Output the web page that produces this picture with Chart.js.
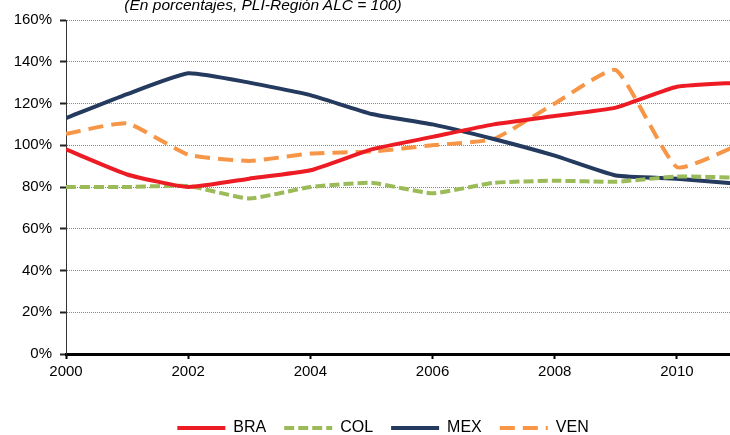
<!DOCTYPE html>
<html>
<head>
<meta charset="utf-8">
<script src="https://cdn.jsdelivr.net/npm/chart.js@4/dist/chart.umd.min.js"></script>
<style>
  html, body { margin: 0; padding: 0; background: #fff; overflow: hidden; }
  #wrap { position: relative; width: 730px; height: 435px; overflow: hidden; }
  #box { position: absolute; left: 0; top: 0; width: 738px; height: 450px; }
  #subtitle {
    position: absolute; left: 0; top: -4px; width: 526px; text-align: center;
    font: italic 15.5px "Liberation Sans", Arial, sans-serif; line-height: 17px; color: #000;
  }
</style>
</head>
<body>
<div id="wrap">
  <div id="box"><canvas id="chart" width="738" height="450"></canvas></div>
  <div id="subtitle">(En porcentajes, PLI-Región ALC = 100)</div>
</div>
<script>
const years = [2000, 2001, 2002, 2003, 2004, 2005, 2006, 2007, 2008, 2009, 2010, 2011];
const bra = [98, 86, 80, 84, 88, 98, 104, 110, 114, 118, 128, 130];
const col = [80, 80, 80.5, 74.5, 80, 82, 77, 82, 83, 82.5, 85, 84.5];
const mex = [113, 124.5, 134.5, 130, 124, 115, 110, 103, 95, 85.5, 84, 81.5];
const ven = [105.5, 110.5, 95.5, 92.5, 96, 97, 100, 103, 120, 136, 89.5, 100];
const yTicks = [0, 20, 40, 60, 80, 100, 120, 140, 160];

function pts(vals) {
    return years.map((yr, i) => ({ x: yr, y: vals[i] }));
}

// nudge the legend a bit to the right, like the original
const shiftLegend = {
    id: "shiftLegend",
    afterLayout(chart) {
        chart.legend.left += 14;
        chart.legend.right += 14;
    }
};

const ctx = document.getElementById("chart").getContext("2d");

new Chart(ctx, {
    type: "line",
    data: {
        datasets: [
            { label: "BRA", data: pts(bra), borderColor: "#ED1C24", backgroundColor: "#ED1C24", borderWidth: 4, borderDash: [] },
            { label: "COL", data: pts(col), borderColor: "#9BBB59", backgroundColor: "#9BBB59", borderWidth: 4, borderDash: [10, 4] },
            { label: "MEX", data: pts(mex), borderColor: "#243A5E", backgroundColor: "#243A5E", borderWidth: 4, borderDash: [] },
            { label: "VEN", data: pts(ven), borderColor: "#F79646", backgroundColor: "#F79646", borderWidth: 4, borderDash: [15, 8] }
        ]
    },
    plugins: [shiftLegend],
    options: {
        responsive: false,
        animation: false,
        devicePixelRatio: 1,
        layout: { padding: { top: 20, right: 0, left: 0, bottom: 4 } },
        elements: {
            point: { radius: 0 },
            line: { tension: 0.15, borderCapStyle: "butt" }
        },
        scales: {
            x: {
                type: "linear",
                min: 2000,
                max: 2011,
                afterFit: s => { s.height += 17; },
                ticks: {
                    stepSize: 2,
                    includeBounds: false,
                    color: "#000",
                    padding: 4,
                    maxRotation: 0,
                    font: { family: "'Liberation Sans', Arial", size: 15 },
                    callback: v => String(v)
                },
                grid: { drawOnChartArea: false, tickLength: 5, tickColor: "#000", tickWidth: 2 },
                border: { color: "#000", width: 3 }
            },
            y: {
                min: 0,
                max: 160,
                afterFit: s => { s.width = 66; },
                afterBuildTicks: s => { s.ticks = yTicks.map(v => ({ value: v })); },
                ticks: {
                    color: "#000",
                    padding: 8,
                    font: { family: "'Liberation Sans', Arial", size: 15 },
                    callback: v => v + "%"
                },
                grid: { color: "#888", lineWidth: 1, tickLength: 6, tickColor: "#222", tickWidth: 2, tickBorderDash: [] },
                border: { color: "#333", width: 1, dash: [1, 1] }
            }
        },
        plugins: {
            legend: {
                position: "bottom",
                labels: {
                    usePointStyle: true,
                    pointStyle: "line",
                    pointStyleWidth: 48,
                    padding: 18,
                    color: "#000",
                    font: { family: "'Liberation Sans', Arial", size: 16 },
                    generateLabels: chart => {
                        const items = Chart.defaults.plugins.legend.labels.generateLabels(chart);
                        items.forEach(it => {
                            const ds = chart.data.datasets[it.datasetIndex];
                            it.lineDash = ds.borderDash;
                            it.lineWidth = 4;
                            it.strokeStyle = ds.borderColor;
                            it.pointStyle = "line";
                        });
                        return items;
                    }
                }
            },
            tooltip: { enabled: false }
        }
    }
});
</script>
</body>
</html>
